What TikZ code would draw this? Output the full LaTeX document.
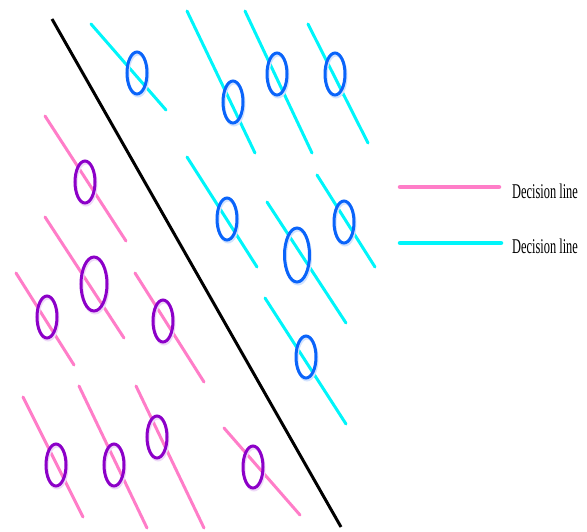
\documentclass[tikz,border=0pt]{standalone}
\usepackage{fontspec}
\setmainfont{Liberation Serif}
\definecolor{cyanline}{RGB}{0,245,250}
\definecolor{pinkline}{RGB}{255,125,200}
\definecolor{bluecirc}{RGB}{10,100,250}
\definecolor{purplecirc}{RGB}{140,0,200}
\tikzset{
  cline/.style={cyanline, line width=3pt, line cap=round},
  pline/.style={pinkline, line width=3pt, line cap=round},
  legline/.style={line width=4.5pt, line cap=round},
  bcirc/.style={bluecirc, line width=3pt},
  pcirc/.style={purplecirc, line width=3pt},
  shadowc/.style={black!8, line width=3pt},
  legtext/.style={anchor=base west, inner sep=0pt, font=\fontsize{21}{21}\selectfont}
}
\newcommand{\bdot}[4]{%
  \draw[shadowc, bluecirc!18] (#1+1,#2+2) ellipse [x radius=#3pt, y radius=#4pt];
  \draw[bcirc] (#1,#2) ellipse [x radius=#3pt, y radius=#4pt];}
\newcommand{\pdot}[4]{%
  \draw[shadowc, purplecirc!15] (#1+1,#2+2) ellipse [x radius=#3pt, y radius=#4pt];
  \draw[pcirc] (#1,#2) ellipse [x radius=#3pt, y radius=#4pt];}
\begin{document}
\begin{tikzpicture}[x=1pt, y=-1pt]
\useasboundingbox (0,0) rectangle (587,531);
% separating line
\coordinate (s1) at (52,19);
\coordinate (s2) at (341,527);
\draw[black, line width=3pt] (s1) -- (s2);
% cyan class
\draw[cline] (91,24) -- (166,110);
\draw[cline] (187,11) -- (255,153);
\draw[cline] (245,11) -- (312,153);
\draw[cline] (308,24) -- (368,143);
\draw[cline] (187,157) -- (257,267);
\draw[cline] (267,202) -- (346,323);
\draw[cline] (317,175) -- (375,267);
\draw[cline] (265,298) -- (346,424);
\bdot{137}{73}{10}{21}
\bdot{233}{102}{10}{21}
\bdot{277}{74}{10}{21}
\bdot{335}{74}{10}{21}
\bdot{227}{219}{10}{21}
\bdot{297}{255}{12.5}{27}
\bdot{344}{222}{10}{21}
\bdot{306}{357}{10}{21}
% pink class
\draw[pline] (45,116) -- (126,241);
\draw[pline] (45,217) -- (124,338);
\draw[pline] (16,273) -- (74,365);
\draw[pline] (135,273) -- (204,382);
\draw[pline] (23,397) -- (83,517);
\draw[pline] (79,386) -- (147,528);
\draw[pline] (136,386) -- (204,528);
\draw[pline] (224,428) -- (300,515);
\pdot{85}{182}{10}{21}
\pdot{94}{284}{13}{27}
\pdot{47}{317}{10}{21}
\pdot{163}{321}{10}{21}
\pdot{56}{465}{10}{21}
\pdot{114}{465}{10}{21}
\pdot{157}{437}{10}{21}
\pdot{253}{467}{10}{21}
% legend
\coordinate (l1a) at (400,187);
\coordinate (l1b) at (499,187);
\coordinate (l2a) at (400,243);
\coordinate (l2b) at (501,243);
\draw[legline, pinkline] (l1a) -- (l1b);
\draw[legline, cyanline] (l2a) -- (l2b);
\node[legtext] (t1) at (512,198) {\scalebox{0.59}[1]{Decision line}};
\node[legtext] (t2) at (512,253) {\scalebox{0.59}[1]{Decision line}};
\end{tikzpicture}
\end{document}
